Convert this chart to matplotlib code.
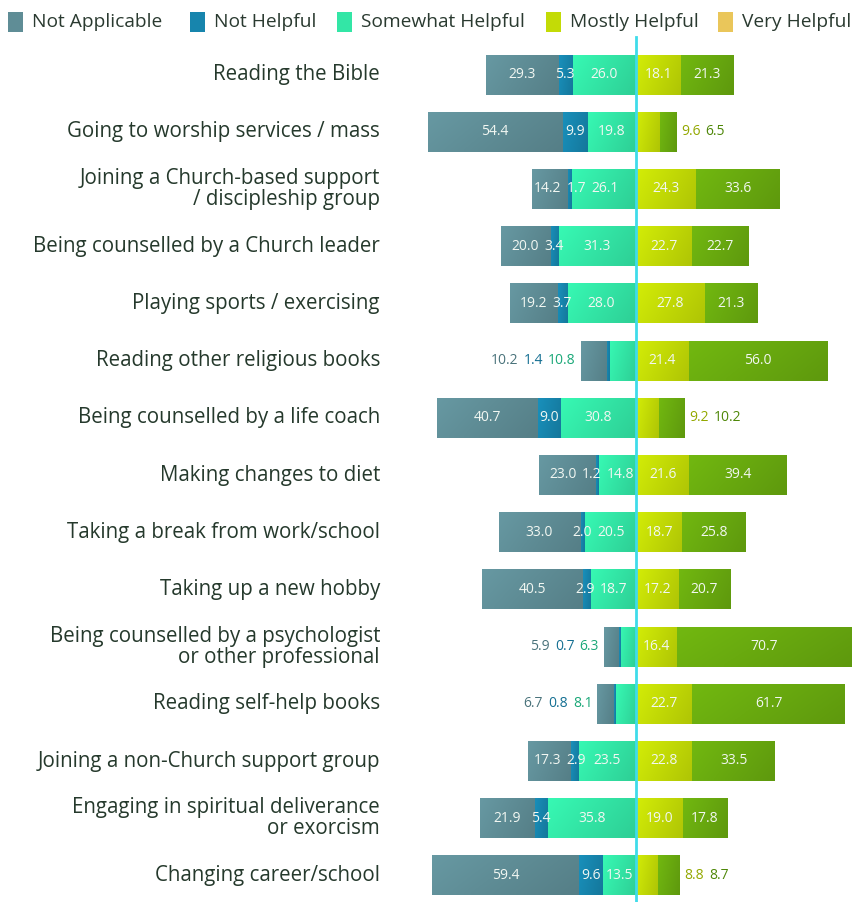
import numpy as np
import matplotlib
matplotlib.use("Agg")
import matplotlib.pyplot as plt
from matplotlib.patches import Rectangle
from matplotlib.colors import to_rgb
from matplotlib.transforms import blended_transform_factory

plt.rcParams['font.family'] = ['Open Sans', 'DejaVu Sans']

categories = [
    "Reading the Bible",
    "Going to worship services / mass",
    "Joining a Church-based support\n/ discipleship group",
    "Being counselled by a Church leader",
    "Playing sports / exercising",
    "Reading other religious books",
    "Being counselled by a life coach",
    "Making changes to diet",
    "Taking a break from work/school",
    "Taking up a new hobby",
    "Being counselled by a psychologist\nor other professional",
    "Reading self-help books",
    "Joining a non-Church support group",
    "Engaging in spiritual deliverance\nor exorcism",
    "Changing career/school",
]

not_applicable = [29.3, 54.4, 14.2, 20.0, 19.2, 10.2, 40.7, 23.0, 33.0, 40.5, 5.9, 6.7, 17.3, 21.9, 59.4]
not_helpful = [5.3, 9.9, 1.7, 3.4, 3.7, 1.4, 9.0, 1.2, 2.0, 2.9, 0.7, 0.8, 2.9, 5.4, 9.6]
somewhat_helpful = [26.0, 19.8, 26.1, 31.3, 28.0, 10.8, 30.8, 14.8, 20.5, 18.7, 6.3, 8.1, 23.5, 35.8, 13.5]
mostly_helpful = [18.1, 9.6, 24.3, 22.7, 27.8, 21.4, 9.2, 21.6, 18.7, 17.2, 16.4, 22.7, 22.8, 19.0, 8.8]
very_helpful = [21.3, 6.5, 33.6, 22.7, 21.3, 56.0, 10.2, 39.4, 25.8, 20.7, 70.7, 61.7, 33.5, 17.8, 8.7]

series_names = ["Not Applicable", "Not Helpful", "Somewhat Helpful", "Mostly Helpful", "Very Helpful"]
bar_colors = ["#5f8d96", "#1785ad", "#33e6a6", "#c3db06", "#69aa0f"]
text_shades = ["#4a737b", "#146f92", "#1aa878", "#93a800", "#4e8708"]
legend_colors = ["#5f8d96", "#1785ad", "#33e6a6", "#c3db06", "#eac65a"]
label_color = "#25392c"
center_color = "#3fdcea"
value_color = "#f2f7f2"

W, H = 859, 902
fig = plt.figure(figsize=(W / 100, H / 100), dpi=100)
fig.patch.set_facecolor("white")

ax_left, ax_right, centre_px = 390, 855, 636
ax_top, ax_bottom = 46, 904
XMAX = 88.5
XMIN = -XMAX * (centre_px - ax_left) / (ax_right - centre_px)
ax = fig.add_axes([ax_left / W, (H - ax_bottom) / H,
                   (ax_right - ax_left) / W, (ax_bottom - ax_top) / H])
ax.set_facecolor("none")
ax.set_xlim(XMIN, XMAX)
n = len(categories)
ax.set_ylim(n - 0.5, -0.5)
ax.axis("off")

ys = np.arange(n)
bar_h = 0.70


def shade(color, f):
    r, g, b = to_rgb(color)
    return (r * f, g * f, b * f)


def gradient_fill(patch, color):
    # soft diagonal sheen on each segment: lighter top-left, deeper bottom-right
    x0, y0 = patch.get_x(), patch.get_y()
    w, h = patch.get_width(), patch.get_height()
    gx, gy = np.meshgrid(np.linspace(0, 1, 32), np.linspace(0, 1, 8))
    t = 0.75 * gx + 0.25 * gy
    c0 = np.array(shade(color, 1.08)).clip(0, 1)
    c1 = np.array(shade(color, 0.90))
    img = c0[None, None, :] * (1 - t[..., None]) + c1[None, None, :] * t[..., None]
    im = ax.imshow(img, extent=(x0, x0 + w, y0 + h, y0), aspect="auto",
                   interpolation="bilinear", zorder=2)
    im.set_clip_path(patch)


# side definitions: series listed from the centre line outward
left_side = [(somewhat_helpful, 2), (not_helpful, 1), (not_applicable, 0)]
right_side = [(mostly_helpful, 3), (very_helpful, 4)]

segments = {}  # (row, side) -> list of (value, start, end, colour index) innermost first
for sign, side in ((-1, left_side), (1, right_side)):
    offset = np.zeros(n)
    for vals, ci in side:
        vals = np.asarray(vals)
        starts = offset if sign > 0 else -(offset + vals)
        bars = ax.barh(ys, vals, left=starts, height=bar_h,
                       color=bar_colors[ci], edgecolor="none", zorder=1)
        for patch in bars:
            gradient_fill(patch, bar_colors[ci])
        for i in range(n):
            segments.setdefault((i, sign), []).append((vals[i], offset[i], offset[i] + vals[i], ci))
        offset = offset + vals

ax.axvline(0, ymin=0, ymax=1.01, color=center_color, lw=2, clip_on=False, zorder=6)

# value labels, laid out so neighbouring numbers never collide
fig.canvas.draw()
renderer = fig.canvas.get_renderer()
dpp = (XMAX - XMIN) / (ax_right - ax_left)
gap = 5 * dpp
pad = 2 * dpp


def isotonic(t):
    blocks = []
    for v in t:
        blocks.append([v, 1])
        while len(blocks) > 1 and blocks[-2][0] > blocks[-1][0]:
            v2, n2 = blocks.pop()
            v1, n1 = blocks.pop()
            blocks.append([(v1 * n1 + v2 * n2) / (n1 + n2), n1 + n2])
    out = []
    for v, k in blocks:
        out += [v] * k
    return np.array(out)


for (row, sign), segs in segments.items():
    texts = [ax.text(0, row, f"{v:.1f}", ha="center", va="center",
                     color=value_color, fontsize=10, zorder=7) for v, *_ in segs]
    widths = np.array([t.get_window_extent(renderer).width * dpp for t in texts])
    centres = np.array([(a + b) / 2 for _, a, b, _ in segs])
    total = segs[-1][2]
    offs = np.zeros(len(segs))
    for k in range(1, len(segs)):
        offs[k] = offs[k - 1] + (widths[k - 1] + widths[k]) / 2 + gap
    lo = widths[0] / 2 + pad
    hi = total - pad - widths[-1] / 2 - offs[-1]
    inside = lo <= hi
    if inside:
        pos = np.clip(isotonic(centres - offs), lo, hi) + offs
    else:
        pos = total + gap + widths[0] / 2 + offs
    for t, p, (_, _, _, ci) in zip(texts, pos, segs):
        t.set_x(sign * p)
        if not inside:
            t.set_color(text_shades[ci])

# category labels, right-aligned just left of the plotting area
tr = blended_transform_factory(fig.transFigure, ax.transData)
for y, cat in zip(ys, categories):
    fig.text(380 / W, y, cat, transform=tr, ha="right", va="center",
             color=label_color, fontsize=14.8, linespacing=1.0)

# legend row
legend_x = [8, 190, 337, 546, 718]
for x, name, col in zip(legend_x, series_names, legend_colors):
    fig.patches.append(Rectangle((x / W, 1 - 32 / H), 15 / W, 20 / H,
                                 transform=fig.transFigure, facecolor=col,
                                 edgecolor="none"))
    fig.text((x + 24) / W, 1 - 22 / H, name, ha="left", va="center",
             color="#2a3a30", fontsize=13.8)

fig.savefig("out.png", dpi=100, facecolor="white")
